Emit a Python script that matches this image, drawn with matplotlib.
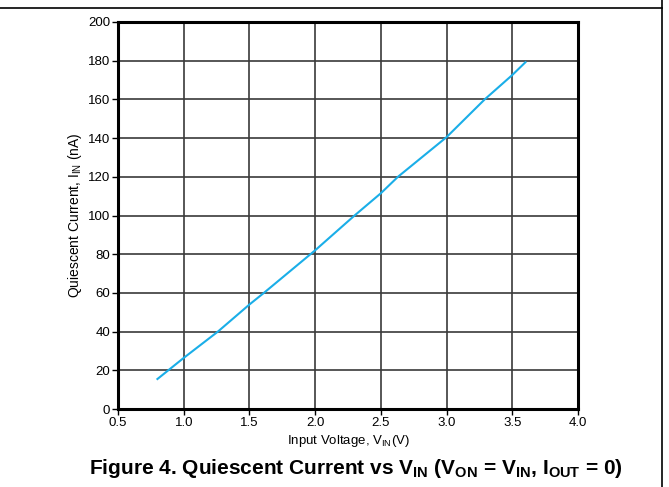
import matplotlib
matplotlib.use("Agg")
import matplotlib.pyplot as plt
from matplotlib.lines import Line2D

plt.rcParams['font.family'] = ['Liberation Sans', 'DejaVu Sans']
plt.rcParams['mathtext.fontset'] = 'custom'
plt.rcParams['mathtext.rm'] = 'Liberation Sans'
plt.rcParams['mathtext.it'] = 'Liberation Sans'
plt.rcParams['mathtext.bf'] = 'Liberation Sans:bold'

# Data
v_in = [0.80, 1.00, 1.26, 1.50, 1.61, 2.00, 2.30, 2.50, 2.63, 3.00, 3.29, 3.50, 3.60]
i_q = [15.5, 26.4, 40.0, 54.0, 60.0, 82.0, 100.0, 111.5, 120.0, 140.5, 160.0, 172.6, 179.2]
x_ticks = [0.5, 1.0, 1.5, 2.0, 2.5, 3.0, 3.5, 4.0]
x_labels = ['0.5', '1.0', '1.5', '2.0', '2.5', '3.0', '3.5', '4.0']
y_ticks = [0, 20, 40, 60, 80, 100, 120, 140, 160, 180, 200]

fig = plt.figure(figsize=(6.69, 4.87), dpi=100)
ax = fig.add_axes([118/669, 1-409/487, (578-118)/669, (409-22)/487])

ax.plot(v_in, i_q, color='#1aaee8', lw=1.5, zorder=3)
ax.set_xlim(0.5, 4.0)
ax.set_ylim(0, 200)
ax.set_xticks(x_ticks)
ax.set_xticklabels(x_labels)
ax.set_yticks(y_ticks)
ax.grid(True, color='#3a3a3a', lw=1.2)
for s in ax.spines.values():
    s.set_linewidth(2.2)
    s.set_color('black')
ax.tick_params(direction='out', length=4, width=1, labelsize=9.5, pad=1.5, colors='black')

ax.set_xlabel(r'Input Voltage, V$_{\mathrm{IN}}$(V)', fontsize=9.5, labelpad=3)
ax.set_ylabel(r'Quiescent Current, I$_{\mathrm{IN}}$ (nA)', fontsize=10, labelpad=3)

fig.text(356/669, 1-468/487,
         r'Figure 4. Quiescent Current vs V$_{\mathbf{IN}}$ (V$_{\mathbf{ON}}$ = V$_{\mathbf{IN}}$, I$_{\mathbf{OUT}}$ = 0)',
         ha='center', va='center', fontsize=15, fontweight='bold')

# outer frame lines
fig.add_artist(Line2D([0, 662/669], [1-8/487, 1-8/487], color='black', lw=1.2, transform=fig.transFigure))
fig.add_artist(Line2D([662/669, 662/669], [0, 1], color='black', lw=1.2, transform=fig.transFigure))

fig.savefig('out.png', dpi=100)
